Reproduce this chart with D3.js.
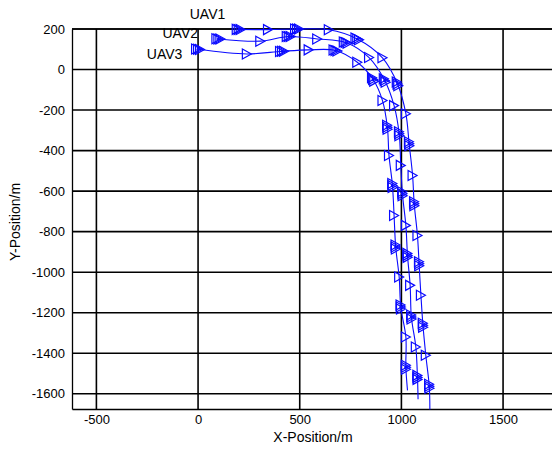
<!DOCTYPE html>
<html>
<head>
<meta charset="utf-8">
<script src="https://cdn.jsdelivr.net/npm/d3@7"></script>
<style>
  body { margin: 0; background: #fff; }
  svg { display: block; font-family: Arial, "Liberation Sans", sans-serif; }
</style>
</head>
<body>
<svg id="chart" width="552" height="450"></svg>
<script>
// waypoints [x, y, marker]  marker: 'c' = cluster of triangles, 's' = single, '' = none
const uav1 = [
  [200, 198, 'c'], [344, 197, 's'], [487, 200, 'c'], [643, 196, 's'],
  [783, 151, 'c'], [907, 58, 's'], [981, -71, 'c'], [1022, -218, 's'],
  [1038, -366, 'c'], [1055, -523, 's'], [1063, -662, 'c'], [1079, -819, 's'],
  [1087, -958, 'c'], [1096, -1114, 's'], [1106, -1262, 'c'], [1120, -1410, 's'],
  [1137, -1563, 'c'], [1140, -1677, '']
];
const uav2 = [
  [100, 151, 'c'], [306, 140, 's'], [446, 163, 'c'], [586, 151, 's'],
  [726, 133, 'c'], [841, 59, 's'], [918, -54, 'c'], [964, -178, 's'],
  [989, -317, 'c'], [997, -473, 's'], [1005, -613, 'c'], [1022, -769, 's'],
  [1030, -917, 'c'], [1043, -1065, 's'], [1049, -1221, 'c'], [1071, -1369, 's'],
  [1079, -1519, 'c'], [1082, -1627, '']
];
const uav3 = [
  [0, 100, 'c'], [240, 77, 's'], [413, 90, 'c'], [544, 97, 's'],
  [676, 94, 'c'], [783, 36, 's'], [861, -49, 'c'], [907, -153, 's'],
  [931, -285, 'c'], [939, -424, 's'], [956, -572, 'c'], [964, -720, 's'],
  [972, -876, 'c'], [989, -1024, 's'], [997, -1172, 'c'], [1022, -1320, 's'],
  [1022, -1469, 'c'], [1030, -1583, '']
];
const seriesNames = ['UAV1', 'UAV2', 'UAV3'];
const labelAt = [[-41, 247], [-175, 158], [-252, 54]]; // text anchors, data units
const xTicks = [-500, 0, 500, 1000, 1500];
const yTicks = [200, 0, -200, -400, -600, -800, -1000, -1200, -1400, -1600];
const xDomain = [-620, 1780];
const yDomain = [-1675, 200];

const svg = d3.select('#chart');
const x = d3.scaleLinear().domain(xDomain).range([72, 560]);
const y = d3.scaleLinear().domain(yDomain).range([409, 29]);

// grid
const grid = svg.append('g').attr('stroke', '#000').attr('stroke-width', 1.6);
grid.selectAll('.gx').data(xTicks).join('line')
  .attr('x1', d => x(d)).attr('x2', d => x(d))
  .attr('y1', y.range()[0]).attr('y2', y.range()[1]);
grid.selectAll('.gy').data(yTicks).join('line')
  .attr('y1', d => y(d)).attr('y2', d => y(d))
  .attr('x1', x.range()[0]).attr('x2', x.range()[1]);

// axes
const fmt = d => String(d);
const xAxis = svg.append('g').attr('transform', `translate(0,${y.range()[0]})`)
  .call(d3.axisBottom(x).tickValues(xTicks).tickFormat(fmt).tickSize(0).tickPadding(6));
const yAxis = svg.append('g').attr('transform', `translate(${x.range()[0]},0)`)
  .call(d3.axisLeft(y).tickValues(yTicks).tickFormat(fmt).tickSize(0).tickPadding(7));
[xAxis, yAxis].forEach(a => {
  a.select('.domain').attr('stroke', '#000').attr('stroke-width', 1.3);
  a.selectAll('text').attr('font-size', 13).attr('fill', '#000')
    .attr('font-family', 'Arial, "Liberation Sans", sans-serif');
});
svg.append('line').attr('stroke', '#000').attr('stroke-width', 1.3)
  .attr('x1', x.range()[0]).attr('x2', x.range()[1])
  .attr('y1', y.range()[1]).attr('y2', y.range()[1]);

svg.append('text').attr('x', 313).attr('y', 442).attr('text-anchor', 'middle')
  .attr('font-size', 14).text('X-Position/m');
svg.append('text').attr('transform', 'translate(20,222) rotate(-90)')
  .attr('text-anchor', 'middle').attr('font-size', 14).text('Y-Position/m');

// trajectories
const line = d3.line().x(d => x(d[0])).y(d => y(d[1])).curve(d3.curveCatmullRom.alpha(0.5));
const tri = 'M-4.5,-5L4.5,0L-4.5,5Z';
const blue = '#0a0aff';

[uav1, uav2, uav3].forEach((pts, k) => {
  svg.append('path').datum(pts).attr('d', line)
    .attr('fill', 'none').attr('stroke', blue).attr('stroke-width', 1.1);

  const g = svg.append('g').attr('fill', 'none').attr('stroke', blue).attr('stroke-width', 1.2);
  pts.forEach((p, i) => {
    if (!p[2]) return;
    const px = x(p[0]), py = y(p[1]);
    const q = pts[Math.min(i + 1, pts.length - 1)], r = pts[Math.max(i - 1, 0)];
    let dx = x(q[0]) - x(r[0]), dy = y(q[1]) - y(r[1]);
    const len = Math.hypot(dx, dy) || 1;
    dx /= len; dy /= len;
    const offs = p[2] === 'c' ? [-2, 0, 2] : [0];
    offs.forEach(o => {
      g.append('path').attr('d', tri)
        .attr('transform', `translate(${px + o * dx},${py + o * dy})`);
    });
    if (p[2] === 'c') {
      g.append('circle').attr('cx', px).attr('cy', py).attr('r', 1.5)
        .attr('fill', blue).attr('stroke', 'none');
    }
  });

  svg.append('text').attr('x', x(labelAt[k][0])).attr('y', y(labelAt[k][1]))
    .attr('font-size', 14).attr('fill', '#000').text(seriesNames[k]);
});
</script>
</body>
</html>
